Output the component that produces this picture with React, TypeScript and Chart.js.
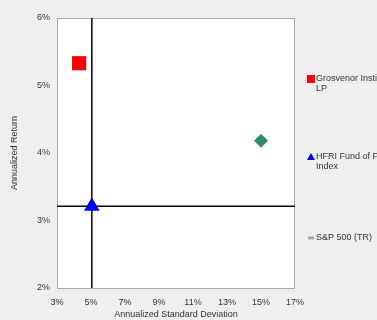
import React, { useEffect, useRef } from "react";
import { Chart, registerables } from "chart.js";

Chart.register(...registerables);

const seriesNames = ["Grosvenor Institutional Partners, LP", "HFRI Fund of Funds Composite Index", "S&P 500 (TR)"];
const legendLines = [["Grosvenor Institutional Partners,", "LP"], ["HFRI Fund of Funds Composite", "Index"], ["S&P 500 (TR)"]];
const stdDev = [4.3, 5.05, 15.0];
const annReturn = [5.33, 3.21, 4.18];
const colors = ["#ff0000", "#0000ff", "#2a8f63"];
const shapes = ["rect", "triangle", "rectRot"];
const radii = [10, 9, 7];
const xMin = 3, xMax = 17, xStep = 2;
const yMin = 2, yMax = 6, yStep = 1;
const benchIndex = 1;

const FONT = "'Liberation Sans', Arial, sans-serif";

export default function App() {
  const ref = useRef<HTMLCanvasElement | null>(null);
  useEffect(() => {
    document.body.style.margin = "0";
    const canvas = ref.current!;
    const bgPlugin = {
      id: "bg",
      beforeDraw(chart: any) {
        const { ctx, chartArea: a } = chart;
        ctx.save();
        ctx.fillStyle = "#efefef";
        ctx.fillRect(0, 0, chart.width, chart.height);
        ctx.fillStyle = "#ffffff";
        ctx.fillRect(a.left, a.top, a.right - a.left, a.bottom - a.top);
        ctx.strokeStyle = "#a8a8a8";
        ctx.lineWidth = 1;
        ctx.strokeRect(a.left + 0.5, a.top + 0.5, a.right - a.left - 1, a.bottom - a.top);
        ctx.restore();
      },
      afterDraw(chart: any) {
        const { ctx, chartArea: a } = chart;
        const offsets = [61, 139, 220];
        ctx.save();
        ctx.font = `9px ${FONT}`;
        ctx.textBaseline = "middle";
        ctx.textAlign = "left";
        legendLines.forEach((lines, i) => {
          const y = a.top + offsets[i];
          const mx = a.right + 16;
          ctx.fillStyle = i === 2 ? "#a0aaa8" : colors[i];
          ctx.beginPath();
          if (i === 0) ctx.rect(mx - 4, y - 4, 8, 8);
          else if (i === 1) { ctx.moveTo(mx, y - 4); ctx.lineTo(mx + 4, y + 3); ctx.lineTo(mx - 4, y + 3); ctx.closePath(); }
          else { ctx.rect(mx - 3, y - 1.5, 6, 3); }
          ctx.fill();
          ctx.fillStyle = "#333333";
          lines.forEach((t, j) => ctx.fillText(t, mx + 5, y + j * 10));
        });
        ctx.restore();
      },
    };

    const pointSets = seriesNames.map((name, i) => ({
      label: name,
      data: [{ x: stdDev[i], y: annReturn[i] }],
      backgroundColor: colors[i],
      borderColor: colors[i],
      pointStyle: shapes[i],
      pointRadius: radii[i],
      pointHoverRadius: radii[i],
      borderWidth: 0,
      order: 0,
    }));
    const lineSets = [
      { label: "v", data: [{ x: stdDev[benchIndex], y: yMin }, { x: stdDev[benchIndex], y: yMax }] },
      { label: "h", data: [{ x: xMin, y: annReturn[benchIndex] }, { x: xMax, y: annReturn[benchIndex] }] },
    ].map((d) => ({ ...d, showLine: true, borderColor: "#000000", borderWidth: 1.5, pointRadius: 0, order: 5 }));

    const chart = new Chart(canvas, {
      type: "scatter",
      data: { datasets: [...pointSets, ...lineSets] as any },
      options: {
        animation: false,
        responsive: false,
        layout: { padding: { top: 18, right: 82, left: 0, bottom: 0 } },
        plugins: { legend: { display: false }, tooltip: { enabled: false } },
        scales: {
          x: {
            type: "linear",
            min: xMin, max: xMax,
            ticks: { stepSize: xStep, callback: (v: any) => v + "%", color: "#333", font: { family: FONT, size: 9 }, padding: 9, maxRotation: 0 },
            grid: { display: false, drawTicks: false },
            border: { display: false },
            title: { display: true, text: "Annualized Standard Deviation", color: "#333", font: { family: FONT, size: 9 }, padding: { top: 0, bottom: 0 } },
            afterFit: (s: any) => { s.height = 32; },
          },
          y: {
            type: "linear",
            min: yMin, max: yMax,
            ticks: { stepSize: yStep, callback: (v: any) => v + "%", color: "#333", font: { family: FONT, size: 9 }, padding: 7 },
            grid: { display: false, drawTicks: false },
            border: { display: false },
            title: { display: true, text: "Annualized Return", color: "#333", font: { family: FONT, size: 9 }, padding: { top: 9, bottom: 0 } },
            afterFit: (s: any) => { s.width = 57; },
          },
        },
      },
      plugins: [bgPlugin],
    });
    return () => chart.destroy();
  }, []);
  return <canvas ref={ref} width={377} height={320} style={{ display: "block" }} />;
}
